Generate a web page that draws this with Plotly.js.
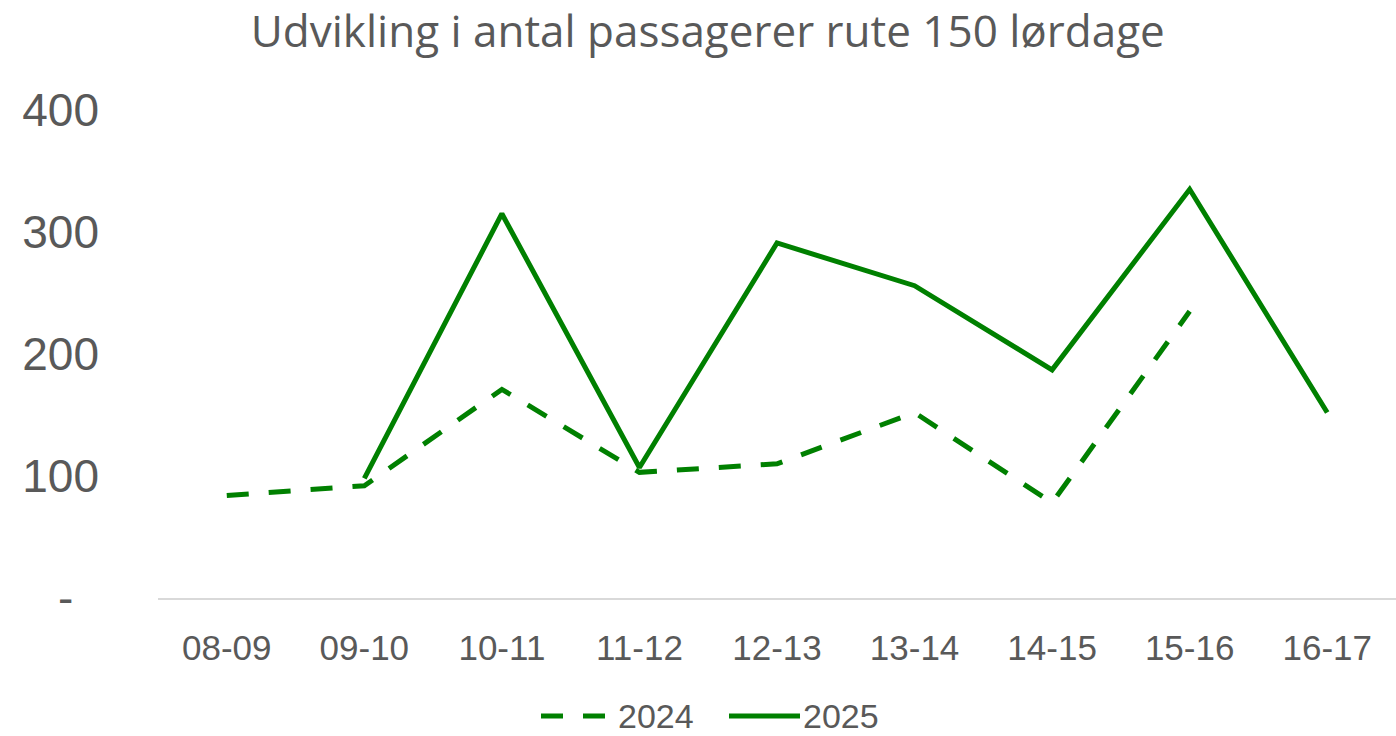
<!DOCTYPE html>
<html>
<head>
<meta charset="utf-8">
<script src="https://cdn.plot.ly/plotly-3.0.1.min.js"></script>
<style>html,body{margin:0;padding:0;background:#fff;}#chart{width:1396px;height:736px;}</style>
</head>
<body>
<div id="chart"></div>
<script>
const categories = ["08-09","09-10","10-11","11-12","12-13","13-14","14-15","15-16","16-17"];
const values2024 = [84, 92, 171, 103, 110, 152, 78, 235, null];
const values2025 = [null, 98, 315, 107, 291, 256, 187, 335, 152];
const seriesNames = ["2024", "2025"];
const yTickVals = [0, 100, 200, 300, 400];
const yTickText = ["-\u00a0\u00a0", "100", "200", "300", "400"];

const green = "#008000";
const grey = "#595959";
const dashPattern = "22px,20px";

const traces = [
  {x: categories, y: values2024, name: seriesNames[0], type: "scatter", mode: "lines",
   line: {color: green, width: 5, dash: dashPattern}, connectgaps: false, showlegend: false},
  {x: categories, y: values2025, name: seriesNames[1], type: "scatter", mode: "lines",
   line: {color: green, width: 5}, connectgaps: false, showlegend: false}
];

// custom legend (paper coordinates: plot spans x 158..1396 px, y 598..110 px)
const px = v => (v - 158) / 1238;
const py = v => (598 - v) / 488;
const legY = 716;
const shapes = [
  {type: "line", xref: "paper", yref: "paper", x0: px(541), x1: px(605), y0: py(legY), y1: py(legY),
   line: {color: green, width: 5, dash: dashPattern}},
  {type: "line", xref: "paper", yref: "paper", x0: px(729), x1: px(800), y0: py(legY), y1: py(legY),
   line: {color: green, width: 5}}
];
const annotations = [
  {xref: "paper", yref: "paper", x: px(617), y: py(legY), xanchor: "left", yanchor: "middle",
   text: seriesNames[0], showarrow: false, font: {size: 34, color: grey}, borderpad: 0},
  {xref: "paper", yref: "paper", x: px(802), y: py(legY), xanchor: "left", yanchor: "middle",
   text: seriesNames[1], showarrow: false, font: {size: 34, color: grey}, borderpad: 0}
];

const layout = {
  width: 1396, height: 736,
  margin: {l: 158, r: 0, t: 110, b: 138},
  paper_bgcolor: "#fff", plot_bgcolor: "#fff",
  font: {family: "Liberation Sans, Arial, sans-serif", color: grey},
  title: {text: "Udvikling i antal passagerer rute 150 lørdage",
          font: {family: "Open Sans, sans-serif", size: 44, color: grey},
          xref: "container", x: 0.507, xanchor: "center",
          yref: "container", y: 0.957, yanchor: "middle"},
  xaxis: {type: "category", showgrid: false, zeroline: false,
          showline: true, linecolor: "#d9d9d9", linewidth: 2,
          ticks: "", tickfont: {size: 35, color: grey}, ticklabelstandoff: 18,
          range: [-0.5, 8.5], fixedrange: true},
  yaxis: {range: [0, 400], showgrid: false, zeroline: false, showline: false,
          tickvals: yTickVals, ticktext: yTickText, ticks: "",
          tickfont: {size: 46, color: grey}, ticklabelstandoff: 58, fixedrange: true},
  showlegend: false,
  shapes: shapes,
  annotations: annotations
};

Plotly.newPlot("chart", traces, layout, {displayModeBar: false, staticPlot: true});
</script>
</body>
</html>
